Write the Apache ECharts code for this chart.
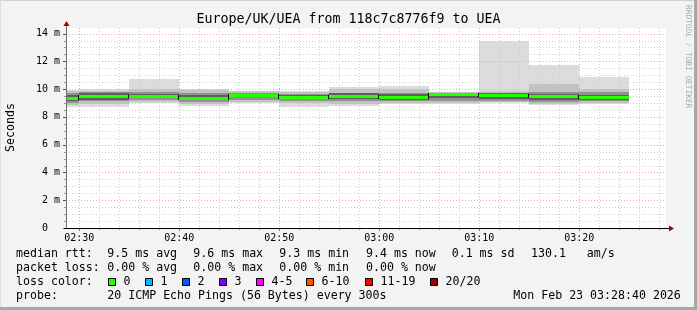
<!DOCTYPE html>
<html><head><meta charset="utf-8">
<script src="https://cdn.jsdelivr.net/npm/echarts@6/dist/echarts.min.js"></script>
<style>html,body{margin:0;padding:0;background:#f3f3f3}#c{width:697px;height:310px}</style>
</head><body><div id="c"></div>
<script>
// ---- data (time in minutes after midnight) ----
const X_MIN = 148 + 40/60;   // 02:28:40
const X_MAX = 208 + 40/60;   // 03:28:40
const Y_MAX = 14.4;
const segEnds = [150,155,160,165,170,175,180,185,190,195,200,205];
const pingMin = [8.74,8.73,9.02,8.78,9.02,8.70,8.81,8.95,8.93,9.02,8.86,8.93];
const pingP10 = [8.85,8.95,9.10,8.95,9.10,8.98,8.95,9.02,9.02,9.08,8.95,9.02];
const pingP25 = [9.00,9.12,9.20,9.10,9.22,9.15,9.12,9.12,9.18,9.15,9.05,9.15];
const pingP40 = [9.15,9.25,9.35,9.25,9.40,9.30,9.30,9.25,9.35,9.30,9.25,9.25];
const median  = [9.38,9.48,9.53,9.38,9.60,9.41,9.50,9.44,9.62,9.60,9.48,9.43];
const pingP60 = [9.55,9.70,9.65,9.55,9.68,9.55,9.70,9.62,9.68,9.72,9.62,9.60];
const pingP75 = [9.75,9.80,9.80,9.70,9.75,9.65,9.75,9.70,9.72,9.75,9.80,9.80];
const pingP90 = [9.85,9.90,9.98,9.92,9.84,9.80,9.98,9.98,9.78,9.85,10.37,9.98];
const pingMax = [9.93,9.98,10.70,9.98,9.88,9.84,10.13,10.22,9.81,13.47,11.73,10.89];
const xTicks = [150,160,170,180,190,200];
const yTicks = [0,2,4,6,8,10,12,14];
const lossLabels = ['0','1','2','3','4-5','6-10','11-19','20/20'];
const lossColors = ['#26ff00','#00b8ff','#0059ff','#7e00ff','#ff00ff','#ff5500','#ff0000','#a10000'];

const MONO = '"DejaVu Sans Mono", monospace';
const fmtTime = m => { const h = Math.floor(m/60), mm = Math.round(m%60); return String(h).padStart(2,'0')+':'+String(mm).padStart(2,'0'); };

// build series data
const bandData = segEnds.map((e,i)=>[Math.max(X_MIN,e-5), e, pingMin[i], pingP10[i], pingP25[i], pingP40[i], pingP60[i], pingP75[i], pingP90[i], pingMax[i]]);
const medData = segEnds.map((e,i)=>[Math.max(X_MIN,e-5), e, median[i], i>0?median[i-1]:median[i]]);
const gridData = [];
for (let t = 150; t <= 208; t += 2) gridData.push([0, t, xTicks.includes(t)?1:0]);
for (let v = 0.5; v <= 14; v += 0.5) gridData.push([1, v, (v%2===0)?1:0]);

const R = v => Math.round(v);
const chart = echarts.init(document.getElementById('c'), null, {renderer:'canvas'});

const graphic = [];
function txt(x,y,s,opt){ graphic.push(Object.assign({type:'text', x:x, y:y, silent:true,
  style:Object.assign({text:s, font:'11.6px '+MONO, fill:'#000', textVerticalAlign:'middle', textAlign:'left'}, opt||{})})); }
// frame
graphic.push({type:'rect', shape:{x:0,y:0,width:697,height:1}, style:{fill:'#cfcfcf'}, silent:true});
graphic.push({type:'rect', shape:{x:0,y:0,width:1,height:310}, style:{fill:'#dedede'}, silent:true});
graphic.push({type:'rect', shape:{x:0,y:307,width:697,height:3}, style:{fill:'#a8a8a8'}, silent:true});
graphic.push({type:'rect', shape:{x:694,y:0,width:3,height:310}, style:{fill:'#a8a8a8'}, silent:true});
// title
txt(348.5, 19.5, 'Europe/UK/UEA from 118c7c8776f9 to UEA', {font:'13.3px '+MONO, textAlign:'center'});
// y name
graphic.push({type:'text', x:10.5, y:127.5, rotation:Math.PI/2, silent:true,
  style:{text:'Seconds', font:'11.6px '+MONO, fill:'#000', textAlign:'center', textVerticalAlign:'middle'}});
// watermark
graphic.push({type:'text', x:688, y:5, rotation:-Math.PI/2, silent:true,
  style:{text:'RRDTOOL / TOBI OETIKER', font:'7.8px '+MONO, fill:'#a8a8a8', textAlign:'left', textVerticalAlign:'middle'}});
// legend rows
txt(16,254.3,'median rtt:');
txt(107.3,254.3,'9.5 ms avg'); txt(193.3,254.3,'9.6 ms max'); txt(279.3,254.3,'9.3 ms min');
txt(366,254.3,'9.4 ms now'); txt(451.7,254.3,'0.1 ms sd'); txt(531,254.3,'130.1'); txt(586.7,254.3,'am/s');
txt(16,268,'packet loss:');
txt(107.3,268,'0.00 % avg'); txt(193.3,268,'0.00 % max'); txt(279.3,268,'0.00 % min'); txt(366,268,'0.00 % now');
txt(16,282.3,'loss color:');
const boxX = [108.5,145.5,182.5,219.5,256.5,306.5,365.5,430.5];
lossLabels.forEach((l,i)=>{
  graphic.push({type:'rect', shape:{x:boxX[i], y:278.5, width:7, height:7}, silent:true, style:{fill:lossColors[i], stroke:'#000', lineWidth:1}});
  txt(boxX[i]+15, 282.3, l);
});
txt(16,296,'probe:');
txt(107.3,296,'20 ICMP Echo Pings (56 Bytes) every 300s');
txt(513.3,296,'Mon Feb 23 03:28:40 2026');

function bandRender(layerIdx){
  return (p,api)=>{
    const s=api.value(0), e=api.value(1);
    const v=[2,3,4,5,6,7,8,9].map(i=>api.value(i));
    const all=[[v[0],v[7],'#dcdcdc'],[v[1],v[6],'#c2c2c2'],[v[2],v[5],'#919191'],[v[3],v[4],'#5e5e5e']];
    const layers = layerIdx.map(i=>all[i]);
    return {type:'group', children: layers.map(([lo,hi,c])=>{
      const a=api.coord([s,hi]), b=api.coord([e,lo]);
      const x0=R(a[0]), x1=R(b[0]), y0=R(a[1]), y1=R(b[1]);
      return {type:'rect', shape:{x:x0,y:y0,width:x1-x0,height:y1-y0}, style:{fill:c}};
    })};
  };
}

const option = {
  animation:false,
  backgroundColor:'#f3f3f3',
  grid:{left:66, top:28, width:600, height:200, backgroundColor:'#ffffff', show:true, borderWidth:0},
  xAxis:{type:'value', min:X_MIN, max:X_MAX,
    splitLine:{show:false}, axisLine:{show:false}, axisTick:{show:false},
    axisLabel:{customValues:xTicks, formatter:fmtTime, fontFamily:MONO, fontSize:10, color:'#000', margin:5}},
  yAxis:{type:'value', min:0, max:Y_MAX, interval:2,
    splitLine:{show:false}, axisLine:{show:false}, axisTick:{show:false},
    axisLabel:{customValues:yTicks, formatter:v=> v===0 ? '0  ' : (v%2===0 ? v+' m' : ''), fontFamily:MONO, fontSize:10, color:'#000', margin:6}},
  series:[
    { // outer smoke layer (min..max)
      type:'custom', coordinateSystem:'cartesian2d', silent:true, z:2, data:bandData,
      renderItem: bandRender([0])
    },
    { // grid lines
      type:'custom', coordinateSystem:'cartesian2d', silent:true, z:3, clip:false, data:gridData,
      renderItem:(p,api)=>{
        const k=api.value(0), v=api.value(1), major=api.value(2);
        const col = major ? '#eaa8a8' : '#cfcfcf';
        const tcol = major ? '#d06060' : '#999999';
        if (k===0){
          const a=api.coord([v,Y_MAX]), b=api.coord([v,0]); const x=R(a[0])+0.5;
          return {type:'group', children:[
            {type:'line', shape:{x1:x,y1:R(a[1]),x2:x,y2:R(b[1])}, style:{stroke:col, lineWidth:1, lineDash:[1,2]}},
            {type:'line', shape:{x1:x,y1:R(b[1]),x2:x,y2:R(b[1])+(major?3:2)}, style:{stroke:tcol, lineWidth:1}}
          ]};
        } else {
          const a=api.coord([X_MIN,v]), b=api.coord([X_MAX,v]); const y=R(a[1])+0.5;
          return {type:'group', children:[
            {type:'line', shape:{x1:R(a[0]),y1:y,x2:R(b[0]),y2:y}, style:{stroke:col, lineWidth:1, lineDash:[1,2]}},
            {type:'line', shape:{x1:R(a[0])-(major?3:2),y1:y,x2:R(a[0]),y2:y}, style:{stroke:major?'#555':'#999', lineWidth:1}}
          ]};
        }
      }
    },
    { // inner smoke layers
      type:'custom', coordinateSystem:'cartesian2d', silent:true, z:4, data:bandData,
      renderItem: bandRender([1,2,3])
    },
    { // median line
      type:'custom', coordinateSystem:'cartesian2d', silent:true, z:5, data:medData,
      renderItem:(p,api)=>{
        const s=api.value(0), e=api.value(1), m=api.value(2), pm=api.value(3);
        const a=api.coord([s,m]), b=api.coord([e,m]), c=api.coord([s,pm]);
        const y=R(a[1]), yp=R(c[1]);
        const ch=[{type:'rect', shape:{x:R(a[0]), y:y-1, width:R(b[0])-R(a[0]), height:3}, style:{fill:lossColors[0]}}];
        if (p.dataIndex>0) ch.push({type:'rect', shape:{x:R(a[0])-1, y:Math.min(y,yp)-1, width:1, height:Math.abs(y-yp)+3}, style:{fill:'#000'}});
        return {type:'group', children:ch};
      }
    },
    { // axes with arrows
      type:'custom', coordinateSystem:'cartesian2d', silent:true, z:6, clip:false, data:[[X_MIN,0]],
      renderItem:(p,api)=>{
        const o=api.coord([X_MIN,0]), xr=api.coord([X_MAX,0]), yt=api.coord([X_MIN,Y_MAX]);
        const x0=R(o[0])+0.5, y0=R(o[1])+0.5, xe=R(xr[0]), ye=R(yt[1]);
        return {type:'group', children:[
          {type:'line', shape:{x1:x0,y1:y0,x2:x0,y2:ye-2}, style:{stroke:'#707070', lineWidth:1}},
          {type:'line', shape:{x1:x0-3,y1:y0,x2:xe+3,y2:y0}, style:{stroke:'#000', lineWidth:1}},
          {type:'polygon', shape:{points:[[xe+3,y0-3],[xe+8,y0],[xe+3,y0+3]]}, style:{fill:'#a00000'}},
          {type:'polygon', shape:{points:[[x0-3,ye-2],[x0,ye-7],[x0+3,ye-2]]}, style:{fill:'#a00000'}}
        ]};
      }
    }
  ],
  graphic: graphic
};
chart.setOption(option);
</script></body></html>
